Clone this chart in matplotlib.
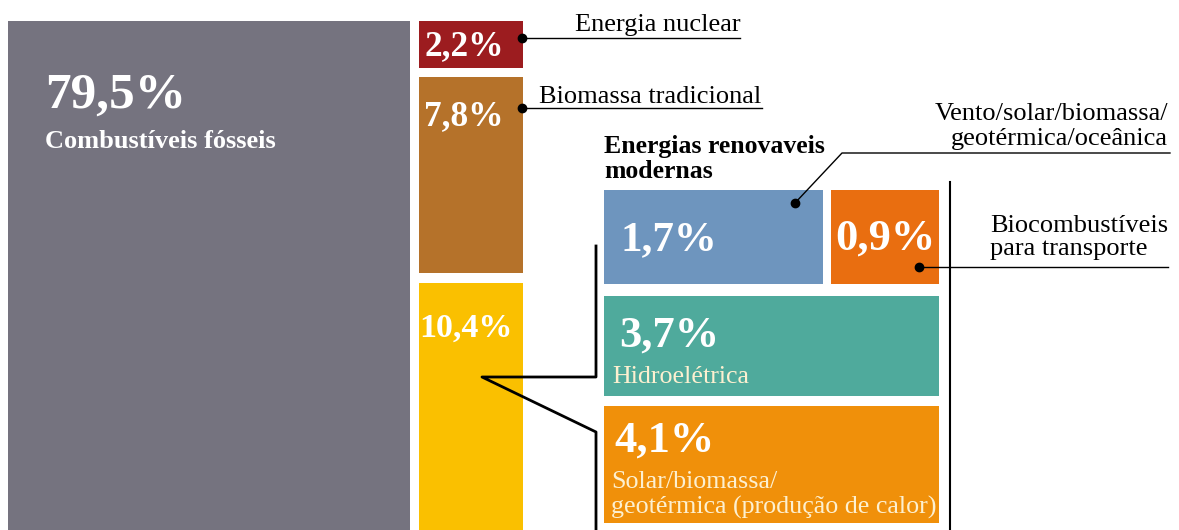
"""Participação das fontes no consumo final de energia"""
import matplotlib.pyplot as plt
from matplotlib.patches import Rectangle

plt.rcParams['font.family'] = ['Liberation Serif', 'DejaVu Serif']

# dados
SHARES = [79.5, 2.2, 7.8, 10.4, 1.7, 0.9, 3.7, 4.1]
NAMES = ['Combustíveis fósseis', 'Energia nuclear', 'Biomassa tradicional',
         'Energias renovaveis\nmodernas', 'Vento/solar/biomassa/\ngeotérmica/oceânica',
         'Biocombustíveis\npara transporte', 'Hidroelétrica',
         'Solar/biomassa/\ngeotérmica (produção de calor)']
COLORS = ['#75737f', '#9c1c1f', '#b5722a', '#fac000',
          '#6e95be', '#e96e10', '#4faa9c', '#f0900a']

# layout: (x0, y0, x1, y1) in pixels
BOXES = [(8, 21, 410, 530), (419, 21, 523, 68), (419, 77, 523, 273),
         (419, 283, 523, 530), (604, 190, 823, 284), (831, 190, 939, 284),
         (604, 296, 939, 396), (604, 406, 939, 523)]


def pct(v):
    return f'{v:.1f}%'.replace('.', ',')


fig = plt.figure(figsize=(11.79, 5.30), dpi=100)
ax = fig.add_axes([0, 0, 1, 1])
ax.set_xlim(0, 1179)
ax.set_ylim(530, 0)
ax.axis('off')

for (x0, y0, x1, y1), c in zip(BOXES, COLORS):
    ax.add_patch(Rectangle((x0, y0), x1 - x0, y1 - y0, color=c, lw=0))

W = 'white'
CREAM = '#fdf0d0'
ax.text(45, 108, pct(SHARES[0]), color=W, fontsize=37, fontweight='bold')
ax.text(45, 148, NAMES[0], color=W, fontsize=19, fontweight='bold')
ax.text(424, 55, pct(SHARES[1]), color=W, fontsize=25.5, fontweight='bold')
ax.text(424, 125, pct(SHARES[2]), color=W, fontsize=25.5, fontweight='bold')
ax.text(419, 337, pct(SHARES[3]), color=W, fontsize=24.5, fontweight='bold')
ax.text(620, 250, pct(SHARES[4]), color=W, fontsize=31, fontweight='bold')
ax.text(835, 250, pct(SHARES[5]), color=W, fontsize=32, fontweight='bold')
ax.text(619, 347, pct(SHARES[6]), color=W, fontsize=32, fontweight='bold')
ax.text(614, 452, pct(SHARES[7]), color=W, fontsize=32, fontweight='bold')
ax.text(612, 383, NAMES[6], color=CREAM, fontsize=18.7)
ax.text(611, 514, NAMES[7], color=CREAM, fontsize=18.7, linespacing=1.2)

# rótulos externos
ax.text(658, 31, NAMES[1], fontsize=19, ha='center')
ax.text(650, 103, NAMES[2], fontsize=19, ha='center')
ax.text(604, 178, NAMES[3], fontsize=18.5, fontweight='bold', linespacing=1.1)
ax.text(1168, 145, NAMES[4], fontsize=19, ha='right', linespacing=1.15)
ax.text(990, 255, NAMES[5], fontsize=19, linespacing=1.05)

# linhas de chamada
ax.plot([522, 740], [38, 38], color='k', lw=1)
ax.plot([522, 762], [108, 108], color='k', lw=1)
ax.plot([795, 842, 1170], [203, 153, 153], color='k', lw=1)
ax.plot([919, 1168], [267, 267], color='k', lw=1)
ax.scatter([522, 522, 795, 919], [38, 108, 203, 267], s=36, color='k', zorder=3)
ax.plot([596, 596, 482, 596, 596], [246, 377, 377, 432, 530], color='k', lw=2)
ax.plot([950, 950], [182, 530], color='k', lw=1.5)

fig.savefig('out.png', dpi=100)
